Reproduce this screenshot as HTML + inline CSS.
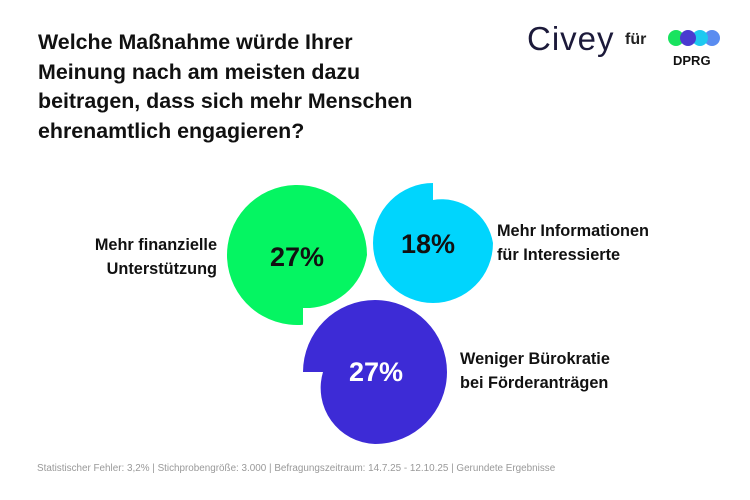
<!DOCTYPE html>
<html><head><meta charset="utf-8"><style>
body{margin:0;background:#fff;width:750px;height:500px;overflow:hidden;font-family:"Liberation Sans",sans-serif}
.t{position:absolute;left:38px;top:28px;font-size:21.4px;font-weight:bold;line-height:29.5px;color:#111}
.l{position:absolute;font-size:16.3px;font-weight:bold;line-height:24px;color:#111}
</style></head><body>
<div class="t">Welche Maßnahme würde Ihrer<br>Meinung nach am meisten dazu<br>beitragen, dass sich mehr Menschen<br>ehrenamtlich engagieren?</div>
<div style="position:absolute;left:527px;top:20px;font-size:33px;color:#1c1a3a;letter-spacing:1px">Civey</div>
<div style="position:absolute;left:625px;top:31px;font-size:16px;font-weight:bold;color:#222">für</div>
<div style="position:absolute;left:673px;top:53px;font-size:13px;font-weight:bold;color:#111">DPRG</div>
<svg style="position:absolute;left:0;top:0" width="750" height="500">
<circle cx="676" cy="38" r="8" fill="#19e35f"/>
<circle cx="712" cy="38" r="8" fill="#5a8cf0"/>
<circle cx="700" cy="38" r="8" fill="#1dc9f0"/>
<circle cx="688" cy="38" r="8" fill="#4a3ad0"/>
<path d="M303,324.7 A70 70 0 1 1 367,255 A62 62 0 0 1 303,308 Z" fill="#05f562"/>
<path d="M433,200 L433,183 A60 60 0 1 0 493,243 A52 52 0 0 0 433,200 Z" fill="#00d5fd"/>
<path d="M303,372 A72 72 0 1 1 375,444 A56 56 0 0 1 323,372 Z" fill="#3d2bd6"/>
<text x="297" y="266" font-size="27" font-weight="bold" text-anchor="middle" fill="#111" font-family="Liberation Sans">27%</text>
<text x="428" y="253" font-size="27" font-weight="bold" text-anchor="middle" fill="#111" font-family="Liberation Sans">18%</text>
<text x="376" y="381" font-size="27" font-weight="bold" text-anchor="middle" fill="#fff" font-family="Liberation Sans">27%</text>
</svg>
<div class="l" style="right:533px;top:233px;text-align:right">Mehr finanzielle<br>Unterstützung</div>
<div class="l" style="left:497px;top:219px">Mehr Informationen<br>für Interessierte</div>
<div class="l" style="left:460px;top:347px">Weniger Bürokratie<br>bei Förderanträgen</div>
<div style="position:absolute;left:37px;top:463px;font-size:9.9px;color:#999">Statistischer Fehler: 3,2% | Stichprobengröße: 3.000 | Befragungszeitraum: 14.7.25 - 12.10.25 | Gerundete Ergebnisse</div>
</body></html>
